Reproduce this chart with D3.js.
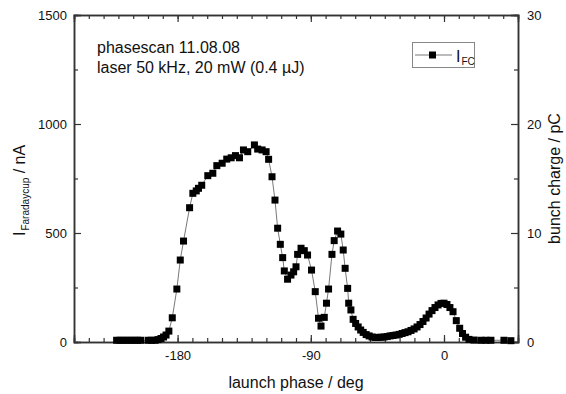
<!DOCTYPE html>
<html>
<head>
<meta charset="utf-8"/>
<script src="https://d3js.org/d3.v7.min.js"></script>
<style>
  body { margin: 0; padding: 0; background: #fff; }
  svg { display: block; font-family: 'Liberation Sans', Arial, sans-serif; }
</style>
</head>
<body>
<div id="chart"></div>
<script>
// launch phase (deg) and Faraday cup current (nA)
const phase = [
  -221.2, -218.8, -216.5, -214.1, -211.7, -209.3, -207.0, -205.0,
  -199.9, -197.6, -195.2, -193.2, -191.2, -189.5, -187.8, -185.9,
  -183.6, -180.5, -178.2, -176.0, -171.9, -169.7, -167.4, -165.9,
  -163.7, -159.6, -156.2, -153.5, -149.9, -146.8, -143.8, -140.9,
  -138.2, -135.5, -132.6, -128.1, -125.9, -122.9, -120.2, -118.5,
  -116.2, -114.2, -112.4, -110.6, -109.0, -107.9, -105.7, -103.4,
  -101.6, -100.0, -98.9, -96.6, -94.4, -92.2, -89.5, -87.0,
  -84.8, -83.1, -80.9, -79.4, -78.0, -75.7, -74.2, -71.9,
  -69.7, -68.1, -66.8, -65.1, -64.4, -62.9, -61.4, -59.7,
  -58.0, -56.3, -54.6, -52.6, -50.6, -48.6, -46.5, -44.5,
  -42.5, -40.5, -38.4, -36.4, -34.4, -32.4, -30.3, -28.3,
  -26.3, -24.3, -22.3, -20.2, -18.2, -16.2, -14.2, -12.1,
  -10.1, -8.1, -6.1, -4.0, -2.0, 0.0, 2.0, 4.0,
  6.1, 8.3, 10.6, 12.5, 14.6, 16.9, 20.2, 24.9,
  28.3, 31.7, 40.5, 45.2
];
const current = [
  8, 8, 8, 8, 8, 8, 8, 8,
  8, 8, 8, 11, 16, 23, 32, 50,
  111, 243, 376, 463, 616, 682, 693, 705,
  719, 763, 774, 809, 820, 839, 845, 855,
  845, 881, 873, 904, 885, 881, 873, 838,
  758, 651, 522, 448, 387, 326, 288, 307,
  322, 345, 402, 430, 419, 399, 330, 231,
  109, 73, 113, 178, 243, 402, 465, 509,
  495, 422, 338, 246, 178, 147, 104, 85,
  69, 55, 44, 34, 28, 23, 21, 21,
  22, 23, 25, 28, 30, 32, 35, 39,
  43, 47, 53, 60, 69, 80, 94, 110,
  128, 144, 158, 170, 177, 178, 172, 158,
  139, 98, 63, 39, 22, 12, 9, 8,
  8, 8, 8, 6
];

const xTicks = [-180, -90, 0];
const xTickLabels = ["-180", "-90", "0"];
const yTicks = [0, 500, 1000, 1500];
const chargeTicks = [0, 10, 20, 30];

const W = 566, H = 394;
const pLeft = 74, pRight = 518, pTop = 15, pBottom = 342;

const svg = d3.select("#chart").append("svg")
  .attr("width", W).attr("height", H);

const x = d3.scaleLinear().domain([-250, 50]).range([pLeft, pRight]);
const y = d3.scaleLinear().domain([0, 1500]).range([pBottom, pTop]);
const yq = d3.scaleLinear().domain([0, 30]).range([pBottom, pTop]);

const axisColor = "#333";

// minor ticks first (no labels)
const xMinor = d3.range(-250, 51, 10);
svg.append("g").attr("transform", `translate(0,${pBottom})`)
  .call(d3.axisBottom(x).tickValues(xMinor).tickSize(-4).tickFormat(""));
svg.append("g").attr("transform", `translate(0,${pTop})`)
  .call(d3.axisTop(x).tickValues(xMinor).tickSize(-4).tickFormat(""));
svg.append("g").attr("transform", `translate(${pLeft},0)`)
  .call(d3.axisLeft(y).tickValues([250, 750, 1250]).tickSize(-4).tickFormat(""));
svg.append("g").attr("transform", `translate(${pRight},0)`)
  .call(d3.axisRight(yq).tickValues([5, 15, 25]).tickSize(-4).tickFormat(""));

// major ticks
svg.append("g").attr("transform", `translate(0,${pBottom})`)
  .call(d3.axisBottom(x).tickValues(xTicks).tickSize(-7).tickPadding(9)
    .tickFormat((d, i) => xTickLabels[i]));
svg.append("g").attr("transform", `translate(0,${pTop})`)
  .call(d3.axisTop(x).tickValues(xTicks).tickSize(-7).tickFormat(""));
svg.append("g").attr("transform", `translate(${pLeft},0)`)
  .call(d3.axisLeft(y).tickValues(yTicks).tickSize(-7).tickPadding(7)
    .tickFormat(d => String(d)));
svg.append("g").attr("transform", `translate(${pRight},0)`)
  .call(d3.axisRight(yq).tickValues(chargeTicks).tickSize(-7).tickPadding(9)
    .tickFormat(d => String(d)));

svg.selectAll(".domain").attr("stroke", axisColor).attr("stroke-width", 1.5);
svg.selectAll(".tick line").attr("stroke", axisColor).attr("stroke-width", 1.2);
svg.selectAll(".tick text").attr("fill", "#111")
  .style("font-size", "13px").style("font-family", "'Liberation Sans', Arial, sans-serif");

// data
const pts = phase.map((p, i) => ({ p: p, v: current[i] }));
const line = d3.line().x(d => x(d.p)).y(d => y(d.v));

svg.append("path").datum(pts)
  .attr("fill", "none").attr("stroke", "#555").attr("stroke-width", 0.8)
  .attr("d", line);

const ms = 7;
svg.selectAll(".pt").data(pts).enter().append("rect")
  .attr("class", "pt")
  .attr("x", d => x(d.p) - ms / 2).attr("y", d => y(d.v) - ms / 2)
  .attr("width", ms).attr("height", ms).attr("fill", "#000");

// annotations
const note = svg.append("text").attr("font-size", 16).attr("fill", "#111");
note.append("tspan").attr("x", 97).attr("y", 53).text("phasescan 11.08.08");
note.append("tspan").attr("x", 97).attr("y", 73).text("laser 50 kHz, 20 mW (0.4 µJ)");

// legend
svg.append("rect").attr("x", 412.5).attr("y", 42.5).attr("width", 62).attr("height", 25)
  .attr("fill", "#fff").attr("stroke", "#888").attr("stroke-width", 1);
svg.append("line").attr("x1", 415).attr("x2", 452).attr("y1", 55).attr("y2", 55)
  .attr("stroke", "#555").attr("stroke-width", 0.8);
svg.append("rect").attr("x", 432.5 - ms / 2).attr("y", 55 - ms / 2)
  .attr("width", ms).attr("height", ms).attr("fill", "#000");
const lg = svg.append("text").attr("x", 456).attr("y", 62).attr("font-size", 16).attr("fill", "#111");
lg.append("tspan").text("I");
lg.append("tspan").attr("font-size", 10).attr("dy", 3).attr("dx", 1).text("FC");

// axis titles
svg.append("text").attr("x", (pLeft + pRight) / 2).attr("y", 388)
  .attr("text-anchor", "middle").attr("font-size", 16).attr("fill", "#111")
  .text("launch phase / deg");

const yl = svg.append("text").attr("transform", "translate(25,236) rotate(-90)")
  .attr("font-size", 16).attr("fill", "#111");
yl.append("tspan").text("I");
yl.append("tspan").attr("font-size", 10).attr("dy", 4).attr("dx", 1).text("Faradaycup");
yl.append("tspan").attr("dy", -4).text(" / nA");

svg.append("text").attr("transform", `translate(560,${(pTop + pBottom) / 2}) rotate(-90)`)
  .attr("text-anchor", "middle").attr("font-size", 16).attr("fill", "#111")
  .text("bunch charge / pC");
</script>
</body>
</html>
